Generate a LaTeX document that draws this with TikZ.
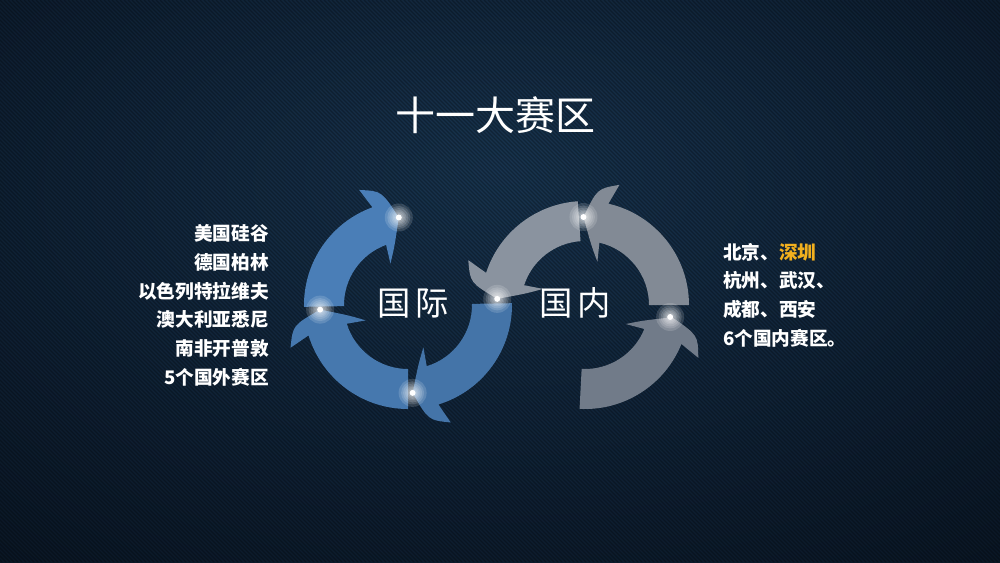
\documentclass[tikz,border=0pt]{standalone}
\usepackage{fontspec}
\newfontfamily\cjk{Noto Sans CJK SC}
\definecolor{bgin}{HTML}{18344F}
\definecolor{bgmid}{HTML}{0D1D2F}
\definecolor{bgout}{HTML}{03070C}
\definecolor{lanse}{HTML}{4A7EB7}
\definecolor{huise}{HTML}{8A939F}
\definecolor{jinse}{HTML}{F2B01E}
\pgfdeclareradialshading{beijing}{\pgfpoint{0bp}{10bp}}{color(0bp)=(bgin); color(30bp)=(bgmid); color(64bp)=(bgout); color(100bp)=(bgout)}
\tikzset{
  biaoti/.style={font=\cjk\fontsize{30}{36}\selectfont,text=white,inner sep=0pt},
  zhongxin/.style={font=\cjk\fontsize{25}{30}\selectfont,text=white,inner sep=0pt},
  liebiao/.style={font=\cjk\bfseries\fontsize{14}{21.5}\selectfont,text=white,inner sep=0pt},
  guang/.pic={
    \foreach \r in {14,11.5,9.5,7.5,6,4.6}{\fill[white,opacity=0.15] (0,0) circle[radius=\r];}
    \fill[white] (0,0) circle[radius=3];
  },
}
% ring arrow: start angle, tip angle, direction (+1/-1), fill
\newcommand{\jiantou}[4]{%
  \pgfmathsetmacro{\hb}{#2-#3*14}%
  \pgfmathsetmacro{\hw}{#2-#3*17}%
  \pgfmathsetmacro{\hm}{#2-#3*7}%
  \fill[#4] (#1:104) arc[start angle=#1,end angle=\hb,radius=104]
    -- (\hw:125) .. controls (\hm:117) .. (#2:88)
    .. controls (\hm:60) .. (\hw:45)
    -- (\hb:64) arc[start angle=\hb,end angle=#1,radius=64] -- cycle;
}

\begin{document}
\begin{tikzpicture}[x=0.75pt,y=0.75pt]
  \useasboundingbox (0,0) rectangle (1000,-562);
  \shade[shading=beijing] (0,0) rectangle (1000,-562);
  \begin{scope}
    \clip (0,0) rectangle (1000,-562);
    \foreach \i in {-564,-560,...,1000}
      \draw[black,opacity=0.28,line width=0.9] (\i,0) -- ++(562,-562);
  \end{scope}

  \node[biaoti] (title) at (495,-115) {十一大赛区};

  % international ring, clockwise
  \begin{scope}[shift={(408,-305)}]
    \jiantou{181}{96}{-1}{lanse}
    \jiantou{270}{183}{-1}{lanse!95!black}
    \jiantou{1}{-87}{-1}{lanse!92!black}
    \coordinate (g1) at (96:88);
    \coordinate (g2) at (183:88);
    \coordinate (g3) at (-87:88);
    \node[zhongxin] (guoji) at (5,2) {国\hspace{3pt}际};
  \end{scope}

  % domestic ring, anticlockwise
  \begin{scope}[shift={(585,-305)}]
    \jiantou{94}{176}{1}{huise}
    \jiantou{0}{91}{1}{huise!94!black}
    \jiantou{267}{352}{1}{huise!80!bgmid}
    \coordinate (g4) at (176:88);
    \coordinate (g5) at (91:88);
    \coordinate (g6) at (352:86);
    \node[zhongxin] (guonei) at (-10,2) {国\hspace{3pt}内};
  \end{scope}

  \foreach \g in {g1,g2,g3,g4,g5,g6} \pic at (\g) {guang};

  \node[liebiao,anchor=east,align=right] (waiguo) at (269,-305.5)
    {美国硅谷\\德国柏林\\以色列特拉维夫\\澳大利亚悉尼\\南非开普敦\\5个国外赛区};
  \node[liebiao,anchor=west,align=left] (guonei list) at (723,-295)
    {北京、{\color{jinse}深圳}\\杭州、武汉、\\成都、西安\\6个国内赛区。};
\end{tikzpicture}
\end{document}
